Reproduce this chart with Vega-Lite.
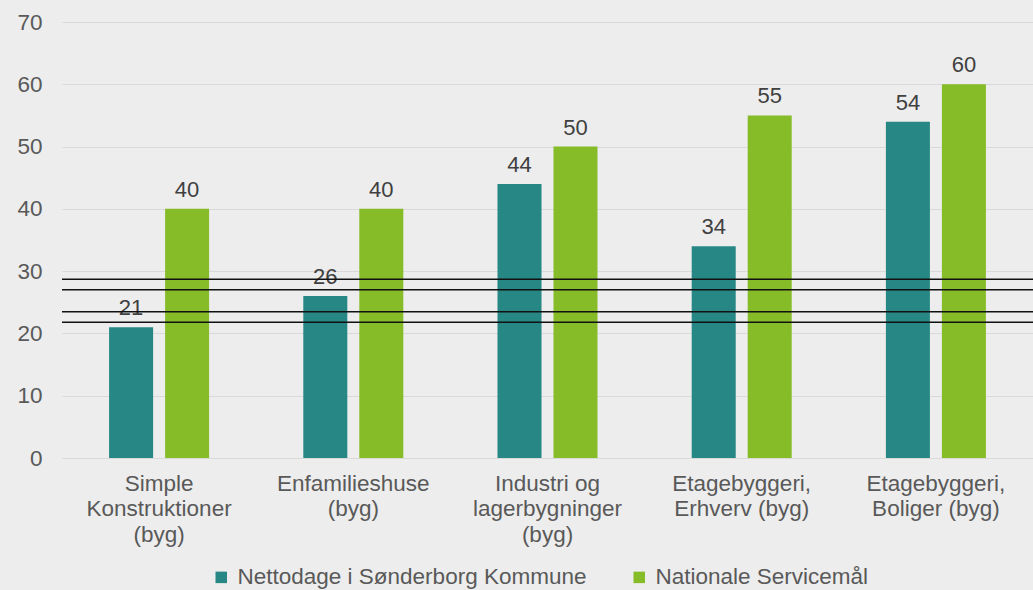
{
  "$schema": "https://vega.github.io/schema/vega-lite/v6.json",
  "autosize": {"type": "none"},
  "width": 971,
  "height": 436,
  "padding": {"left": 62, "top": 22, "right": 0, "bottom": 132},
  "background": "#ededed",
  "config": {
    "view": {"stroke": null},
    "font": "Liberation Sans"
  },
  "datasets": {
    "bars": [
      {"kategori": "Simple Konstruktioner (byg)", "serie": "Nettodage i Sønderborg Kommune", "dage": 21},
      {"kategori": "Simple Konstruktioner (byg)", "serie": "Nationale Servicemål", "dage": 40},
      {"kategori": "Enfamilieshuse (byg)", "serie": "Nettodage i Sønderborg Kommune", "dage": 26},
      {"kategori": "Enfamilieshuse (byg)", "serie": "Nationale Servicemål", "dage": 40},
      {"kategori": "Industri og lagerbygninger (byg)", "serie": "Nettodage i Sønderborg Kommune", "dage": 44},
      {"kategori": "Industri og lagerbygninger (byg)", "serie": "Nationale Servicemål", "dage": 50},
      {"kategori": "Etagebyggeri, Erhverv (byg)", "serie": "Nettodage i Sønderborg Kommune", "dage": 34},
      {"kategori": "Etagebyggeri, Erhverv (byg)", "serie": "Nationale Servicemål", "dage": 55},
      {"kategori": "Etagebyggeri, Boliger (byg)", "serie": "Nettodage i Sønderborg Kommune", "dage": 54},
      {"kategori": "Etagebyggeri, Boliger (byg)", "serie": "Nationale Servicemål", "dage": 60}
    ],
    "linjer": [
      {"niveau": 28.7},
      {"niveau": 27.0},
      {"niveau": 23.5},
      {"niveau": 21.8}
    ]
  },
  "layer": [
    {
      "data": {"name": "bars"},
      "mark": {"type": "bar"},
      "encoding": {
        "x": {
          "field": "kategori", "type": "nominal", "sort": null,
          "scale": {"paddingInner": 0.485, "paddingOuter": 0.2425},
          "axis": {
            "title": null,
            "labelAngle": 0,
            "labelFontSize": 22.5,
            "labelColor": "#595959",
            "labelPadding": 14,
            "labelLineHeight": 25.5,
            "labelBaseline": "top",
            "labelLimit": 400,
            "ticks": false,
            "domainColor": "#d9d9d9",
            "domainWidth": 1,
            "labelExpr": "datum.value == 'Simple Konstruktioner (byg)' ? ['Simple', 'Konstruktioner', '(byg)'] : datum.value == 'Enfamilieshuse (byg)' ? ['Enfamilieshuse', '(byg)'] : datum.value == 'Industri og lagerbygninger (byg)' ? ['Industri og', 'lagerbygninger', '(byg)'] : datum.value == 'Etagebyggeri, Erhverv (byg)' ? ['Etagebyggeri,', 'Erhverv (byg)'] : ['Etagebyggeri,', 'Boliger (byg)']"
          }
        },
        "xOffset": {
          "field": "serie", "type": "nominal",
          "sort": ["Nettodage i Sønderborg Kommune", "Nationale Servicemål"],
          "scale": {"paddingInner": 0.214, "paddingOuter": 0}
        },
        "y": {
          "field": "dage", "type": "quantitative",
          "scale": {"domain": [0, 70], "nice": false},
          "axis": {
            "title": null,
            "values": [0, 10, 20, 30, 40, 50, 60, 70],
            "labelFontSize": 22.5,
            "labelColor": "#595959",
            "labelPadding": 20,
            "ticks": false,
            "domain": false,
            "gridColor": "#d9d9d9",
            "gridWidth": 1
          }
        },
        "color": {
          "field": "serie", "type": "nominal",
          "sort": ["Nettodage i Sønderborg Kommune", "Nationale Servicemål"],
          "scale": {"domain": ["Nettodage i Sønderborg Kommune", "Nationale Servicemål"], "range": ["#268784", "#86bc28"]},
          "legend": {
            "title": null,
            "orient": "none",
            "legendX": 148,
            "legendY": 544,
            "direction": "horizontal",
            "symbolType": "square",
            "symbolSize": 132,
            "symbolStrokeWidth": 0,
            "labelFontSize": 22.5,
            "labelColor": "#595959",
            "labelOffset": 5,
            "labelLimit": 500,
            "columnPadding": 41
          }
        }
      }
    },
    {
      "data": {"name": "bars"},
      "mark": {"type": "text", "fontSize": 22, "color": "#404040", "baseline": "alphabetic", "dy": -12},
      "encoding": {
        "x": {"field": "kategori", "type": "nominal", "sort": null},
        "xOffset": {"field": "serie", "type": "nominal", "sort": ["Nettodage i Sønderborg Kommune", "Nationale Servicemål"]},
        "y": {"field": "dage", "type": "quantitative"},
        "text": {"field": "dage", "type": "quantitative"}
      }
    },
    {
      "data": {"name": "linjer"},
      "mark": {"type": "rule", "color": "#111111", "strokeWidth": 1.5},
      "encoding": {
        "y": {"field": "niveau", "type": "quantitative"}
      }
    }
  ]
}
